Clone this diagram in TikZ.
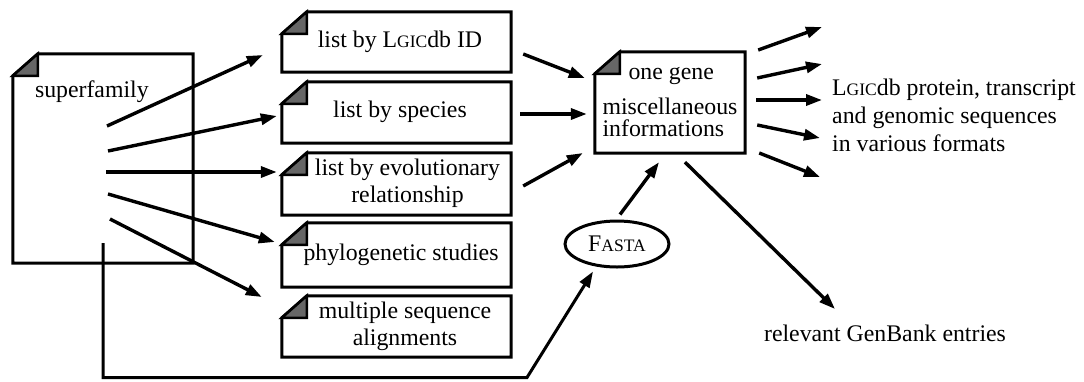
\documentclass[tikz,border=0pt]{standalone}
\usepackage{fontspec}
\setmainfont{Liberation Serif}
\usetikzlibrary{arrows.meta,shapes.geometric}

% imitation small capitals (the font has no smcp feature)
\newcommand\fakesc[1]{{\fontsize{17.5}{17.5}\selectfont #1}}
% centred text block pushed right of the folded corner by #1
\newcommand\boxtext[2]{\hspace*{#1}\begin{tabular}{@{}c@{}}#2\end{tabular}}

\tikzset{
  txt/.style={font=\fontsize{23.8}{25}\selectfont, inner sep=0pt},
  docbox/.style={txt, font=\fontsize{23.8}{27}\selectfont, minimum width=229pt},
  outline/.style={line width=3pt, line join=miter},
  foldfill/.style={fill=black!60, line width=2.5pt},
  arr/.style={line width=3.4pt, -{Triangle[length=16pt,width=11pt]}},
}

% folded-corner document outline around a named node
\newcommand\docoutline[1]{%
  \draw[outline] ([yshift=-22pt]#1.north west) -- ([xshift=25pt]#1.north west)
    -- (#1.north east) -- (#1.south east) -- (#1.south west) -- cycle;
  \filldraw[foldfill] ([yshift=-22pt]#1.north west) -- ([xshift=25pt]#1.north west)
    -- ([xshift=25pt,yshift=-22pt]#1.north west) -- cycle;
}

\begin{document}
\begin{tikzpicture}[x=1pt,y=-1pt]
\useasboundingbox (0,0) rectangle (1084,381);

% superfamily document
\node[txt, minimum width=180pt, minimum height=209pt,
      label={[txt, anchor=base west, xshift=22pt, yshift=-44pt]north west:superfamily}]
  (sf) at (103,158.5) {};
\docoutline{sf}

% the five listing documents
\node[docbox, minimum height=60pt] (b1) at (396.5,42) {\boxtext{7pt}{list by L\fakesc{GIC}db ID}};
\node[docbox, minimum height=61pt] (b2) at (396.5,112.5) {\boxtext{7pt}{list by species}};
\node[docbox, minimum height=62pt] (b3) at (396.5,184) {\boxtext{22pt}{list by evolutionary\\relationship}};
\node[docbox, minimum height=64pt] (b4) at (396.5,255) {\boxtext{9pt}{phylogenetic studies}};
\node[docbox, minimum height=61pt] (b5) at (396.5,326.5) {\boxtext{17pt}{multiple sequence\\alignments}};
\foreach \n in {b1,b2,b3,b4,b5} {\docoutline{\n}}

% one-gene page
\node[txt, minimum width=150pt, minimum height=101pt, align=left]
  (og) at (670,102.5) {\hspace*{26pt}one gene\\[10pt]miscellaneous\\[-3pt]informations};
\docoutline{og}

% FASTA search
\node[txt, ellipse, draw, line width=3pt, minimum width=104pt, minimum height=46pt]
  (fa) at (617,244) {F\fakesc{ASTA}};

% output texts
\node[txt, font=\fontsize{23.8}{28}\selectfont, anchor=west, align=left] (seq) at (832,115)
  {L\fakesc{GIC}db protein, transcript\\and genomic sequences\\in various formats};
\node[txt] (gb) at (885,333) {relevant GenBank entries};

% fan out of the superfamily
\draw[arr] ([shift={(4,-32.5)}]sf.center) -- ([shift={(-19,13)}]b1.west);
\draw[arr] ([shift={(5,-7.5)}]sf.center) -- ([shift={(-5,3.5)}]b2.west);
\draw[arr] ([shift={(3,13.5)}]sf.center) -- ([shift={(-5,-12)}]b3.west);
\draw[arr] ([shift={(5,35.5)}]sf.center) -- ([shift={(-7,-13)}]b4.west);
\draw[arr] ([shift={(7,60.5)}]sf.center) -- ([shift={(-20,-29.5)}]b5.west);

% lists into the one-gene page
\draw[arr] ([shift={(12,12)}]b1.east) -- ([shift={(-10,-24.5)}]og.west);
\draw[arr] ([shift={(9,1.5)}]b2.east) -- ([shift={(-8,11.5)}]og.west);
\draw[arr] ([shift={(12,2)}]b3.east) -- ([shift={(-12,50.5)}]og.west);

% sequence downloads
\draw[arr] ([shift={(13,-52.5)}]og.east) -- ([shift={(-10,-88)}]seq.west);
\draw[arr] ([shift={(12,-24.5)}]og.east) -- ([shift={(-10,-51)}]seq.west);
\draw[arr] ([shift={(11,-2.5)}]og.east) -- ([shift={(-10,-15)}]seq.west);
\draw[arr] ([shift={(12,22.5)}]og.east) -- ([shift={(-12,23)}]seq.west);
\draw[arr] ([shift={(14,50.5)}]og.east) -- ([shift={(-12,62)}]seq.west);

% GenBank link
\draw[arr] ([shift={(15,9)}]og.south) -- ([shift={(-50,-24)}]gb.center);

% FASTA route
\draw[arr, line width=3pt] ([shift={(0,84.5)}]sf.center) |- ([shift={(-90,109)}]fa.south)
  -- ([shift={(-24,3)}]fa.south);
\draw[arr] ([shift={(3,-5)}]fa.north) -- ([shift={(-11,9)}]og.south);
\end{tikzpicture}
\end{document}
